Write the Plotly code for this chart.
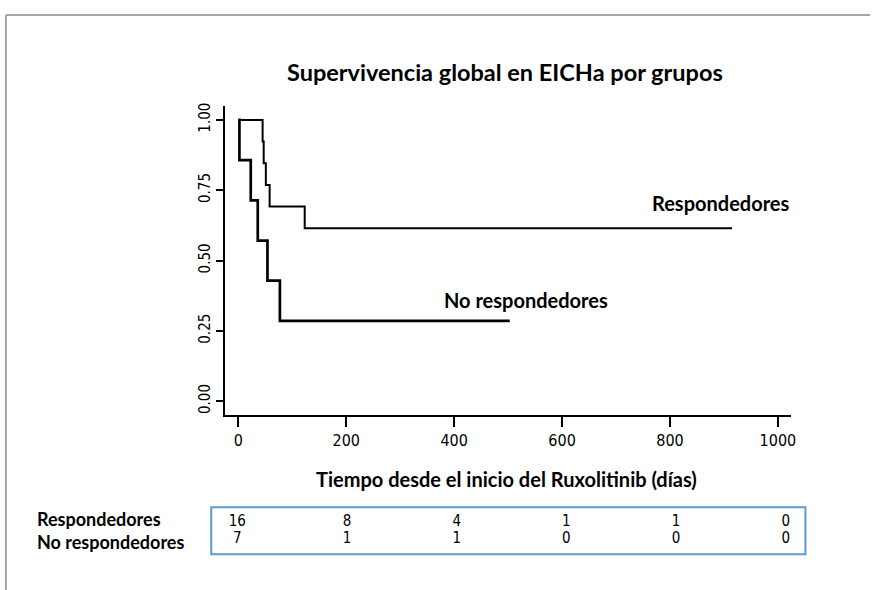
import plotly.graph_objects as go

# Kaplan-Meier step data (days, survival probability)
resp_days = [0, 45, 47, 51, 58, 123, 915]
resp_surv = [1.0, 0.923, 0.846, 0.769, 0.692, 0.615, 0.615]

noresp_days = [0, 2, 23, 36, 54, 77, 503]
noresp_surv = [1.0, 0.857, 0.714, 0.571, 0.429, 0.286, 0.286]

# Numbers at risk
risk_times = [0, 200, 400, 600, 800, 1000]
risk_resp = [16, 8, 4, 1, 1, 0]
risk_noresp = [7, 1, 1, 0, 0, 0]

x_ticks = [0, 200, 400, 600, 800, 1000]
y_ticks = [0.0, 0.25, 0.5, 0.75, 1.0]
y_tick_text = ["0.00", "0.25", "0.50", "0.75", "1.00"]

W, H = 876, 590
LABEL_FONT = "Lato, Calibri, 'Open Sans', sans-serif"
NUM_FONT = "'Liberation Sans Narrow', 'DejaVu Sans Condensed', 'Liberation Sans', Arial, sans-serif"


def px_x(v):
    return v / W


def px_y(v):
    return 1 - v / H


fig = go.Figure()

fig.add_trace(go.Scatter(
    x=resp_days, y=resp_surv, mode="lines", line=dict(shape="hv", color="black", width=2),
    hoverinfo="skip", showlegend=False, xaxis="x", yaxis="y"))
fig.add_trace(go.Scatter(
    x=noresp_days, y=noresp_surv, mode="lines", line=dict(shape="hv", color="black", width=2.7),
    hoverinfo="skip", showlegend=False, xaxis="x", yaxis="y"))

# Risk table numbers
fig.add_trace(go.Scatter(
    x=risk_times, y=[0.68] * len(risk_times), mode="text", text=[str(v) for v in risk_resp],
    textfont=dict(family=NUM_FONT, size=15, color="black"), hoverinfo="skip",
    showlegend=False, xaxis="x2", yaxis="y2"))
fig.add_trace(go.Scatter(
    x=risk_times, y=[0.31] * len(risk_times), mode="text", text=[str(v) for v in risk_noresp],
    textfont=dict(family=NUM_FONT, size=15, color="black"), hoverinfo="skip",
    showlegend=False, xaxis="x2", yaxis="y2"))

fig.update_layout(
    width=W, height=H, autosize=False,
    margin=dict(l=0, r=0, t=0, b=0),
    paper_bgcolor="white", plot_bgcolor="white",
    xaxis=dict(
        domain=[px_x(226.5), px_x(796)], range=[-24.8, 1023.4], anchor="y",
        tickmode="array", tickvals=x_ticks, ticktext=[str(t) for t in x_ticks],
        ticks="outside", ticklen=10, tickwidth=1.5, tickcolor="black",
        showline=True, linecolor="black", linewidth=2, showgrid=False, zeroline=False,
        tickfont=dict(family=NUM_FONT, size=16, color="black"),
    ),
    yaxis=dict(
        domain=[px_y(414), px_y(103)], range=[-0.0494, 1.0484], anchor="x",
        tickmode="array", tickvals=y_ticks, ticktext=y_tick_text, tickangle=-90,
        ticks="outside", ticklen=7, tickwidth=1.5, tickcolor="black",
        showline=True, linecolor="black", linewidth=2, showgrid=False, zeroline=False,
        tickfont=dict(family=NUM_FONT, size=15, color="black"),
    ),
    xaxis2=dict(
        domain=[px_x(212.7), px_x(811)], range=[-47.6, 1036], anchor="y2",
        visible=False, showgrid=False, zeroline=False,
    ),
    yaxis2=dict(
        domain=[px_y(554), px_y(506.7)], range=[0, 1], anchor="x2",
        visible=False, showgrid=False, zeroline=False,
    ),
    shapes=[
        # outer frame (top and left edges)
        dict(type="line", xref="paper", yref="paper", x0=px_x(6), y0=px_y(11), x1=1, y1=px_y(11),
             line=dict(color="#a6a6a6", width=2)),
        dict(type="line", xref="paper", yref="paper", x0=px_x(6), y0=px_y(11), x1=px_x(6), y1=0,
             line=dict(color="#a6a6a6", width=2)),
        # risk table border
        dict(type="rect", xref="x2 domain", yref="y2 domain", x0=0, y0=0, x1=1, y1=1,
             line=dict(color="#5b9bd5", width=2)),
    ],
    annotations=[
        dict(text="<b>Supervivencia global en EICHa por grupos</b>", xref="paper", yref="paper",
             x=px_x(508), y=px_y(68), xanchor="center", yanchor="middle", showarrow=False,
             font=dict(family=LABEL_FONT, size=23.5, color="black")),
        dict(text="<b>Tiempo desde el inicio del Ruxolitinib (días)</b>", xref="paper", yref="paper",
             x=px_x(510), y=px_y(478), xanchor="center", yanchor="middle", showarrow=False,
             font=dict(family=LABEL_FONT, size=20, color="black")),
        dict(text="<b>Respondedores</b>", xref="x", yref="y", x=894, y=0.706,
             xanchor="center", yanchor="middle", showarrow=False,
             font=dict(family=LABEL_FONT, size=20, color="black")),
        dict(text="<b>No respondedores</b>", xref="x", yref="y", x=533, y=0.36,
             xanchor="center", yanchor="middle", showarrow=False,
             font=dict(family=LABEL_FONT, size=20, color="black")),
        dict(text="<b>Respondedores</b>", xref="paper", yref="paper", x=px_x(36), y=px_y(519),
             xanchor="left", yanchor="middle", showarrow=False, borderpad=0,
             font=dict(family=LABEL_FONT, size=18, color="black")),
        dict(text="<b>No respondedores</b>", xref="paper", yref="paper", x=px_x(36), y=px_y(541.5),
             xanchor="left", yanchor="middle", showarrow=False, borderpad=0,
             font=dict(family=LABEL_FONT, size=18, color="black")),
    ],
)

fig.write_html("out.html")
